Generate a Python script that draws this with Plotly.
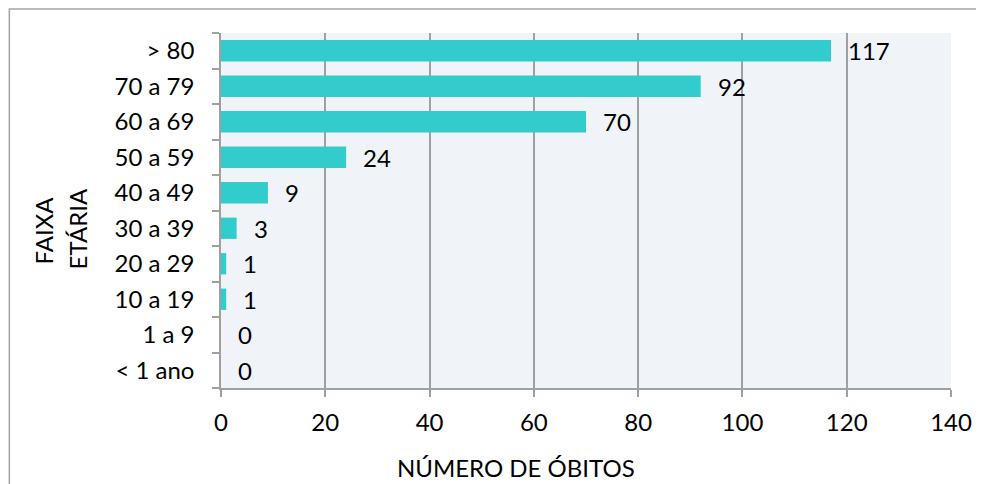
import plotly.graph_objects as go

categories = ["< 1 ano", "1 a 9", "10 a 19", "20 a 29", "30 a 39",
              "40 a 49", "50 a 59", "60 a 69", "70 a 79", "> 80"]
obitos = [0, 0, 1, 1, 3, 9, 24, 70, 92, 117]
x_ticks = [0, 20, 40, 60, 80, 100, 120, 140]

FONT = "Lato, Carlito, Calibri, sans-serif"
FS = 24
OFF = 8  # page body margin
W, H = 976, 476
L, R, T, B = 213, 31, 25, 96
pw, ph = W - L - R, H - T - B

def px_x(p):
    return (p - OFF - L) / pw

def px_y(p):
    return (H - B - (p - OFF)) / ph

fig = go.Figure()
fig.add_trace(go.Bar(
    x=obitos, y=categories, orientation="h",
    marker=dict(color="#33CCCC", line=dict(width=0)),
    hoverinfo="x+y",
))

for c, v in zip(categories, obitos):
    fig.add_annotation(x=v, y=c, xref="x", yref="y", text=str(v),
                       showarrow=False, xanchor="left", xshift=15,
                       font=dict(family=FONT, size=FS, color="#000000"))

# axis titles
fig.add_annotation(x=px_x(44), y=px_y(230), xref="paper", yref="paper",
                   text="FAIXA", textangle=-90, showarrow=False,
                   xanchor="center", yanchor="middle",
                   font=dict(family=FONT, size=FS, color="#000000"))
fig.add_annotation(x=px_x(78), y=px_y(229), xref="paper", yref="paper",
                   text="ETÁRIA", textangle=-90, showarrow=False,
                   xanchor="center", yanchor="middle",
                   font=dict(family=FONT, size=FS, color="#000000"))
fig.add_annotation(x=px_x(517), y=px_y(467), xref="paper", yref="paper",
                   text="NÚMERO DE ÓBITOS", showarrow=False,
                   xanchor="center", yanchor="middle",
                   font=dict(family=FONT, size=FS, color="#000000"))

# chart border
fig.add_shape(type="rect", xref="paper", yref="paper",
              x0=px_x(8.75), x1=px_x(983), y0=px_y(500), y1=px_y(9),
              line=dict(color="#A6A6A6", width=1.5), layer="below")

fig.update_layout(
    width=W, height=H,
    margin=dict(l=L, r=R, t=T, b=B),
    paper_bgcolor="#FFFFFF",
    plot_bgcolor="#F0F3F8",
    bargap=0.4,
    showlegend=False,
    font=dict(family=FONT, size=FS, color="#000000"),
    xaxis=dict(
        range=[0, 140], tickvals=x_ticks, ticktext=[str(t) for t in x_ticks],
        showgrid=True, gridcolor="#A0A0A0", gridwidth=1.5,
        showline=True, linecolor="#A0A0A0", linewidth=1.5,
        ticks="outside", ticklen=7, tickcolor="#A0A0A0", tickwidth=1.5,
        ticklabelstandoff=5, zeroline=False,
        tickfont=dict(family=FONT, size=FS, color="#000000"),
    ),
    yaxis=dict(
        categoryorder="array", categoryarray=categories,
        showgrid=False, showline=True, linecolor="#A0A0A0", linewidth=1.5,
        ticks="outside", ticklen=7, tickcolor="#A0A0A0", tickwidth=1.5,
        tickson="boundaries", ticklabelstandoff=20,
        tickfont=dict(family=FONT, size=FS, color="#000000"),
    ),
)

fig.write_html("out.html")
